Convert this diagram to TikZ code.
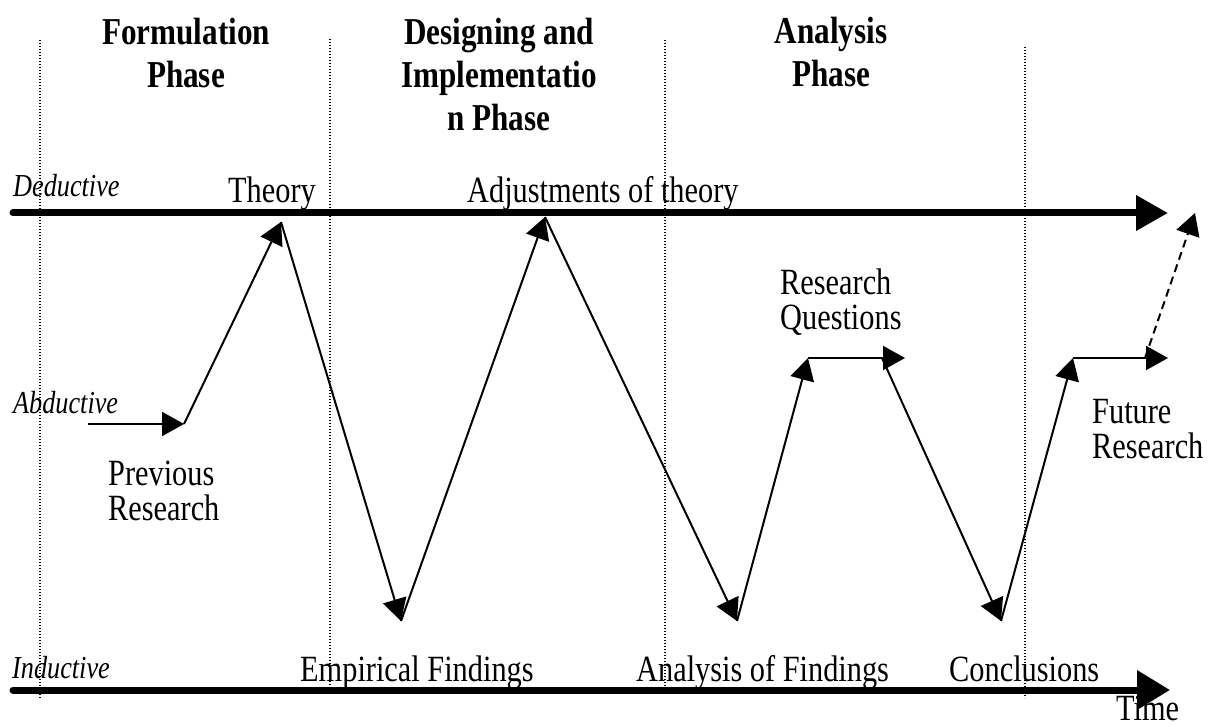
\documentclass[tikz,border=0pt]{standalone}
\usepackage{fontspec}
\setmainfont{Liberation Serif}[FakeStretch=0.82]
\usetikzlibrary{arrows.meta}
\begin{document}
\begin{tikzpicture}[x=1pt,y=-1pt,
  lbl/.style={inner sep=0pt, anchor=base west, font=\fontsize{37}{35}\selectfont},
  mlbl/.style={lbl, align=left},
  ital/.style={inner sep=0pt, anchor=base west, font=\itshape\fontsize{32}{32}\selectfont},
  phase/.style={inner sep=0pt, anchor=base, align=center, font=\bfseries\fontsize{38}{43}\selectfont},
  axisline/.style={line width=7pt, line cap=round},
  conn/.style={line width=2pt, -{Triangle[length=22pt,width=24pt]}},
  dashconn/.style={conn, dash pattern=on 8pt off 5pt},
  guide/.style={line width=1.2pt, dash pattern=on 1.2pt off 1.8pt}]
\useasboundingbox (0,0) rectangle (1215,727);

% phase separators
\draw[guide] (40,40) -- (40,698);
\draw[guide] (330,39) -- (330,686);
\draw[guide] (665,40) -- (665,686);
\draw[guide] (1025,47) -- (1025,698);

% phase headings (base = last line)
\node[phase] (ph1) at (186,88) {Formulation\\Phase};
\node[phase] (ph2) at (499,131) {Designing and\\Implementatio\\n Phase};
\node[phase] (ph3) at (831,87) {Analysis\\Phase};

% axes
\coordinate (ds) at (13,213);
\coordinate (de) at (1168,213);
\coordinate (is) at (13,690);
\coordinate (ie) at (1170,690);
\draw[axisline, -{Triangle[length=32pt,width=34pt]}] (ds) -- (de);
\draw[axisline, -{Triangle[length=33pt,width=38pt]}] (is) -- (ie);

% axis labels
\node[ital] (ded) at (13,197) {Deductive};
\node[ital] (abd) at (13,413) {Abductive};
\node[ital] (ind) at (12,678) {Inductive};
\node[lbl] (time) at (1116,720) {Time};

% stage labels
\node[lbl] (theory) at (228,203) {Theory};
\node[lbl] (adj) at (467,203) {Adjustments of theory};
\node[mlbl] (prev) at (108,520) {Previous\\Research};
\node[mlbl] (rq) at (780,329) {Research\\Questions};
\node[mlbl] (fut) at (1092,458) {Future\\Research};
\node[lbl] (emp) at (300,681) {Empirical Findings};
\node[lbl] (anf) at (636,681) {Analysis of Findings};
\node[lbl] (conc) at (949,681) {Conclusions};

% path points
\coordinate (pa) at (88,424);
\coordinate (pb) at (184,424);
\coordinate (pt) at (281,222);
\coordinate (pe) at (401,621);
\coordinate (pj) at (545,217);
\coordinate (pf) at (737,621);
\coordinate (pq1) at (808,358);
\coordinate (pq2) at (905,358);
\coordinate (pq3) at (882,358);
\coordinate (pc) at (1001,621);
\coordinate (pr1) at (1073,358);
\coordinate (pr2) at (1168,358);
\coordinate (pr3) at (1145,358);
\coordinate (pd) at (1195,213);

\draw[conn] (pa) -- (pb);
\draw[conn] (pb) -- (pt);
\draw[conn] (pt) -- (pe);
\draw[conn] (pe) -- (pj);
\draw[conn] (pj) -- (pf);
\draw[conn] (pf) -- (pq1);
\draw[conn] (pq1) -- (pq2);
\draw[conn] (pq3) -- (pc);
\draw[conn] (pc) -- (pr1);
\draw[conn] (pr1) -- (pr2);
\draw[dashconn] (pr3) -- (pd);
\end{tikzpicture}
\end{document}
